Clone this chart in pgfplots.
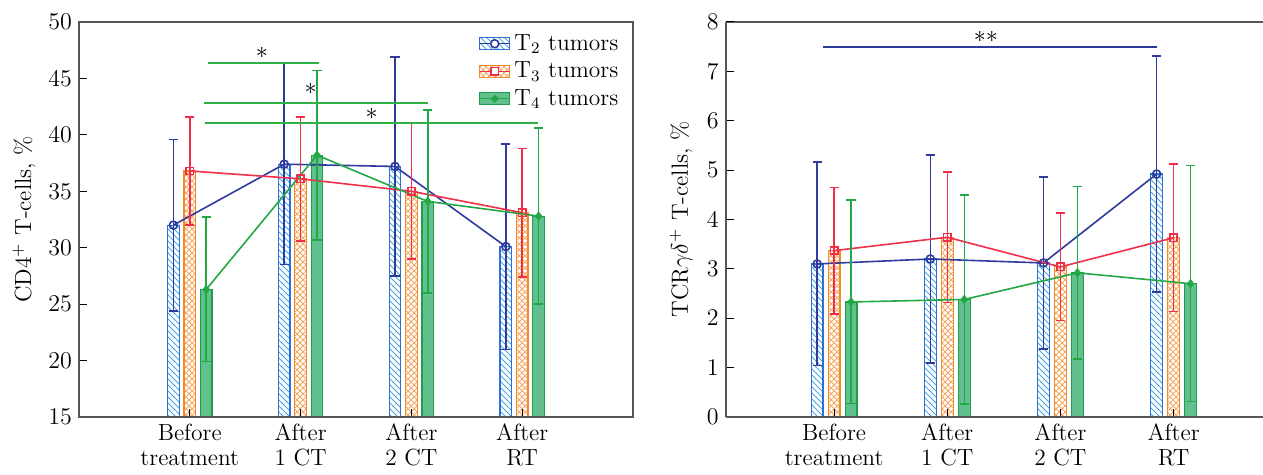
\documentclass[border=0pt]{standalone}
\usepackage{pgfplots}
\usepackage{pgfplotstable}
\pgfplotsset{compat=1.18}
\usetikzlibrary{patterns}

\definecolor{ttwoedge}{HTML}{2F6FD3}
\definecolor{ttwohatch}{HTML}{4AA8E2}
\definecolor{ttwoline}{HTML}{2E3A9C}
\definecolor{tthreeedge}{HTML}{F08A2A}
\definecolor{tthreehatch}{HTML}{F6A860}
\definecolor{tthreeline}{HTML}{F0304A}
\definecolor{tfouredge}{HTML}{1E9E4B}
\definecolor{tfourfill}{HTML}{62C08E}
\definecolor{tfourline}{HTML}{22A845}
\definecolor{siggreen}{HTML}{2FB245}
\definecolor{axgray}{HTML}{555555}

\pgfplotstableread{
x t2 t2e t3 t3e t4 t4e
1 32.0 7.6 36.8 4.8 26.3 6.4
2 37.4 8.9 36.1 5.5 38.2 7.5
3 37.2 9.7 35.0 6.0 34.1 8.1
4 30.1 9.1 33.1 5.7 32.8 7.8
}\cdleft

\pgfplotstableread{
x t2 t2e t3 t3e t4 t4e
1 3.10 2.06 3.37 1.28 2.33 2.06
2 3.20 2.11 3.64 1.32 2.38 2.12
3 3.12 1.74 3.04 1.09 2.92 1.75
4 4.92 2.39 3.63 1.49 2.70 2.39
}\tcrright

\newcommand{\chartfont}{\fontsize{11.7}{12.3}\selectfont}

\pgfplotsset{
  common/.style={
    scale only axis, height=197.5pt,
    tick pos=left, axis on top,
    axis line style={axgray, line width=0.9pt},
    major tick length=4pt,
    tick style={black, line width=0.5pt},
    xtick={1,2,3,4},
    xticklabels={{Before\\treatment},{After\\1 CT},{After\\2 CT},{After\\RT}},
    xticklabel style={align=center, font=\chartfont},
    yticklabel style={font=\chartfont},
    ylabel style={font=\chartfont, anchor=center},
  },
  bartwo/.style={ybar, bar width=0.105, bar shift=0pt, draw=ttwoedge, line width=0.6pt, pattern=north west lines, pattern color=ttwohatch, forget plot},
  barthree/.style={ybar, bar width=0.105, bar shift=0pt, draw=tthreeedge, line width=0.6pt, pattern=crosshatch, pattern color=tthreehatch, forget plot},
  barfour/.style={ybar, bar width=0.105, bar shift=0pt, draw=tfouredge, line width=0.6pt, fill=tfourfill, forget plot},
  errstyle/.style={error bars/.cd, y dir=both, y explicit, error bar style={line width=0.75pt}, error mark options={rotate=90, line width=0.75pt, mark size=2.3pt}},
  linetwo/.style={color=ttwoline, line width=0.8pt, mark=o, mark size=2pt, mark options={line width=0.8pt, fill=white}, forget plot, errstyle},
  linethree/.style={color=tthreeline, line width=0.8pt, mark=square, mark size=1.8pt, mark options={line width=0.8pt, fill=white}, forget plot, errstyle},
  linefour/.style={color=tfourline, line width=0.8pt, mark=diamond*, mark size=1.8pt, forget plot, errstyle},
}

\begin{document}
\begin{tikzpicture}
\useasboundingbox (0,0) rectangle (631.5pt,237.5pt);

\begin{axis}[common,
  at={(39.5pt,29pt)}, anchor=south west, width=277pt,
  xmin=0, xmax=5, ymin=15, ymax=50,
  ytick={15,20,...,50},
  ylabel={CD4$^+$ T-cells, \%},
  ylabel style={at={(axis description cs:-0.099,0.5)}},
  legend style={at={(rel axis cs:0.985,0.985)}, anchor=north east, draw=none, fill=none,
    font=\chartfont, inner sep=1pt, row sep=0.3pt},
  legend cell align=left,
]
\addlegendimage{legend image code/.code={
  \draw[draw=ttwoedge, line width=0.6pt, pattern=north west lines, pattern color=ttwohatch] (0pt,-3pt) rectangle (15pt,3pt);
  \draw[ttwoline, line width=0.7pt] (0pt,0pt) -- (15pt,0pt);
  \draw[ttwoline, line width=0.8pt, fill=white] (7.5pt,0pt) circle (2pt);}}
\addlegendentry{T$_2$ tumors}
\addlegendimage{legend image code/.code={
  \draw[draw=tthreeedge, line width=0.6pt, pattern=crosshatch, pattern color=tthreehatch] (0pt,-3pt) rectangle (15pt,3pt);
  \draw[tthreeline, line width=0.7pt] (0pt,0pt) -- (15pt,0pt);
  \draw[tthreeline, line width=0.8pt, fill=white] (5.7pt,-1.8pt) rectangle (9.3pt,1.8pt);}}
\addlegendentry{T$_3$ tumors}
\addlegendimage{legend image code/.code={
  \draw[draw=tfouredge, line width=0.6pt, fill=tfourfill] (0pt,-3pt) rectangle (15pt,3pt);
  \draw[tfourline, line width=0.7pt] (0pt,0pt) -- (15pt,0pt);
  \fill[tfourline] (7.5pt,-1.8pt) -- (9.3pt,0pt) -- (7.5pt,1.8pt) -- (5.7pt,0pt) -- cycle;}}
\addlegendentry{T$_4$ tumors}

\addplot[bartwo] table[x expr=\thisrow{x}-0.148, y=t2] {\cdleft};
\addplot[barthree] table[x expr=\thisrow{x}, y=t3] {\cdleft};
\addplot[barfour] table[x expr=\thisrow{x}+0.148, y=t4] {\cdleft};
\addplot[linetwo] table[x expr=\thisrow{x}-0.148, y=t2, y error=t2e] {\cdleft};
\addplot[linethree] table[x expr=\thisrow{x}, y=t3, y error=t3e] {\cdleft};
\addplot[linefour] table[x expr=\thisrow{x}+0.148, y=t4, y error=t4e] {\cdleft};

\addplot[siggreen, line width=0.9pt, forget plot] coordinates {(1.16,46.4) (2.17,46.4)};
\addplot[siggreen, line width=0.9pt, forget plot] coordinates {(1.13,42.8) (3.15,42.8)};
\addplot[siggreen, line width=0.9pt, forget plot] coordinates {(1.14,41.06) (4.14,41.06)};
\node[font=\chartfont] at (axis cs:1.65,47.3) {$\ast$};
\node[font=\chartfont] at (axis cs:2.09,44.1) {$\ast$};
\node[font=\chartfont] at (axis cs:2.64,41.85) {$\ast$};
\end{axis}

\begin{axis}[common,
  at={(362.85pt,29pt)}, anchor=south west, width=268.65pt,
  axis x line*=bottom, axis y line*=left, clip=false,
  xmin=0.042, xmax=4.79, ymin=0, ymax=8,
  ytick={0,1,...,8},
  ylabel={TCR$\gamma\delta^+$ T-cells, \%},
  ylabel style={at={(axis description cs:-0.083,0.5)}},
]
\draw[axgray, line width=0.9pt] (rel axis cs:0,1) -- (rel axis cs:1,1);
\addplot[bartwo] table[x expr=\thisrow{x}-0.15, y=t2] {\tcrright};
\addplot[barthree] table[x expr=\thisrow{x}, y=t3] {\tcrright};
\addplot[barfour] table[x expr=\thisrow{x}+0.15, y=t4] {\tcrright};
\addplot[linetwo] table[x expr=\thisrow{x}-0.15, y=t2, y error=t2e] {\tcrright};
\addplot[linethree] table[x expr=\thisrow{x}, y=t3, y error=t3e] {\tcrright};
\addplot[linefour] table[x expr=\thisrow{x}+0.15, y=t4, y error=t4e] {\tcrright};

\addplot[ttwoline, line width=0.8pt, forget plot] coordinates {(0.9,7.49) (3.85,7.49)};
\node[font=\chartfont] at (axis cs:2.34,7.7) {${\ast}{\ast}$};
\end{axis}
\end{tikzpicture}
\end{document}
